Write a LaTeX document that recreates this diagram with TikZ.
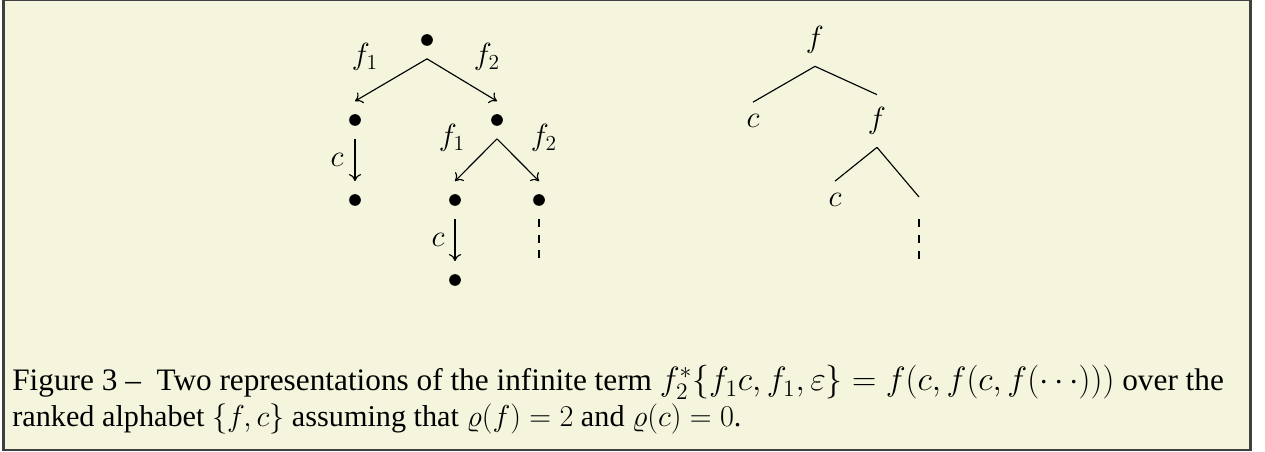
\RequirePackage{fix-cm}
\documentclass[tikz,border=0pt]{standalone}
\usepackage[no-math]{fontspec}
\setmainfont{Liberation Serif}
\usetikzlibrary{arrows.meta}
\definecolor{bgbeige}{RGB}{245,245,221}
\definecolor{framegray}{RGB}{64,64,64}
\newcommand{\capmathA}[1]{{\fontsize{19.2}{22}\selectfont$#1$}}
\begin{document}
\begin{tikzpicture}[x=0.02cm,y=-0.02cm,
  dotnode/.style={minimum width=0.3cm,minimum height=0.74cm,inner sep=0pt,
    path picture={\fill (path picture bounding box.center) circle (0.117cm);}},
  lbl/.style={inner sep=0pt,font=\fontsize{17.4}{21}\selectfont},
  fnode/.style={lbl,minimum height=1.04cm},
  cnode/.style={lbl,minimum height=0.74cm},
  edge/.style={line width=0.65pt},
  arr/.style={edge,-{To[length=4pt,width=7pt]}},
  dashedge/.style={line width=0.65pt,dash pattern=on 4.5pt off 4.5pt},
  captext/.style={anchor=base west,inner sep=0pt,font=\fontsize{17.8}{21}\selectfont},
  captextB/.style={anchor=base west,inner sep=0pt,font=\fontsize{17.2}{21}\selectfont}]
\useasboundingbox (0,0) rectangle (1265,452);
\fill[white] (0,0) rectangle (1265,452);
\filldraw[fill=bgbeige,draw=framegray,line width=1.2pt] (3.5,-0.5) rectangle (1250.5,450);
% left tree
\node[dotnode] (r) at (427,40) {};
\node[dotnode] (a) at (355,120) {};
\node[dotnode] (b) at (497,120) {};
\node[dotnode] (aa) at (355,200) {};
\node[dotnode] (ba) at (455,200) {};
\node[dotnode] (bb) at (539,200) {};
\node[dotnode] (baa) at (455,280) {};
\coordinate (bbend) at (539,259);
\draw[arr] (r.south) -- (a.north);
\draw[arr] (r.south) -- (b.north);
\draw[arr] (a.south) -- (aa.north);
\draw[arr] (b.south) -- (ba.north);
\draw[arr] (b.south) -- (bb.north);
\draw[arr] (ba.south) -- (baa.north);
\draw[dashedge] (bb.south) -- (bbend);
\node[lbl] (l1) at (365,57) {$f_1$};
\node[lbl] (l2) at (487,57) {$f_2$};
\node[lbl] (l3) at (452,138) {$f_1$};
\node[lbl] (l4) at (544,138) {$f_2$};
\node[lbl] (l5) at (337,160) {$c$};
\node[lbl] (l6) at (438,240) {$c$};
% right tree
\node[fnode] (F1) at (815,40) {$f$};
\node[cnode] (C1) at (753,121) {$c$};
\node[fnode] (F2) at (877,121) {$f$};
\node[cnode] (C2) at (835,200) {$c$};
\coordinate (E) at (919,197);
\coordinate (D1) at (919,219);
\coordinate (D2) at (919,259);
\draw[edge] (F1.south) -- (C1.north);
\draw[edge] (F1.south) -- (F2.north);
\draw[edge] (F2.south) -- (C2.north);
\draw[edge] (F2.south) -- (E);
\draw[dashedge] (D1) -- (D2);
% caption
\node[captext] (cap1) at (12,391) {Figure 3 –\ \ Two representations of the infinite term \capmathA{f_2^*\{f_1c,f_1,\varepsilon\}=f(c,f(c,f(\cdots)))} over the};
\node[captextB] (cap2) at (12,427) {ranked alphabet $\{f,c\}$ assuming that $\varrho(f)=2$ and $\varrho(c)=0$.};
\end{tikzpicture}
\end{document}
